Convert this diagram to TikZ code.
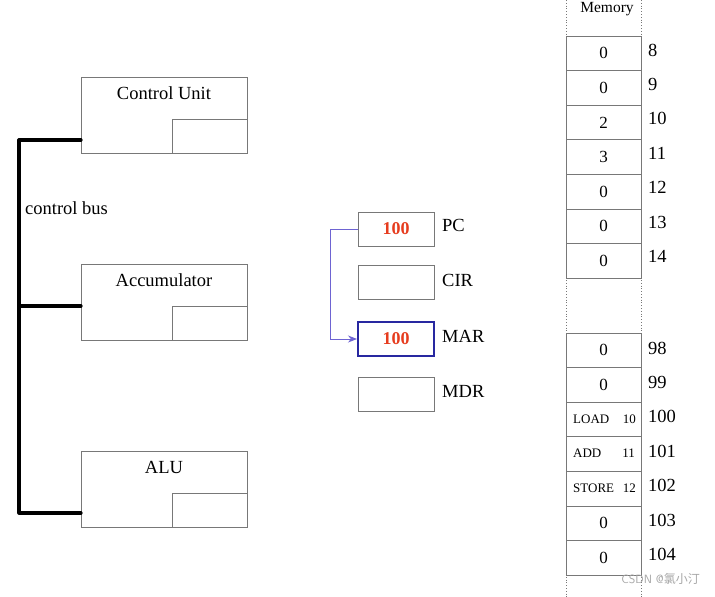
\documentclass[tikz,border=0pt]{standalone}
\usepackage{fontspec}
\setmainfont{Liberation Serif}
\newfontfamily\cjk{Noto Sans CJK SC}
\usetikzlibrary{arrows.meta}
\definecolor{boxgray}{RGB}{120,120,120}
\definecolor{regblue}{RGB}{40,40,160}
\definecolor{arrblue}{RGB}{110,100,210}
\definecolor{valred}{RGB}{230,60,30}
\tikzset{
  unitbox/.style={draw=boxgray, line width=0.8pt, minimum width=166pt, minimum height=76pt, inner sep=0pt, outer sep=0pt},
  subbox/.style={draw=boxgray, line width=0.8pt, minimum width=75pt, minimum height=34pt, inner sep=0pt, outer sep=0pt},
  regbox/.style={draw=boxgray, line width=0.8pt, minimum width=76pt, minimum height=34pt, inner sep=0pt, outer sep=0pt, font=\fontsize{18}{20}\selectfont\bfseries, text=valred},
  memcell/.style={draw=boxgray, line width=0.8pt, minimum width=75pt, minimum height=34.6pt, inner sep=0pt, outer sep=0pt, font=\fontsize{17}{19}\selectfont},
  bigtxt/.style={font=\fontsize{18.5}{20}\selectfont, inner sep=0pt},
  addr/.style={font=\fontsize{18.5}{20}\selectfont, anchor=west, inner sep=0pt},
  small/.style={font=\fontsize{13}{15}\selectfont, inner sep=0pt},
  bus/.style={line width=3.2pt, line cap=round, line join=round},
}
\begin{document}
\begin{tikzpicture}[x=1pt,y=-1pt]
\useasboundingbox (0,0) rectangle (715,597);
% units
\node[unitbox] (cu) at (164,115) {};
\node[subbox, anchor=south east] (cus) at (cu.south east) {};
\node[bigtxt] (cut) at (164,93) {Control Unit};
\node[unitbox] (acc) at (164,302) {};
\node[subbox, anchor=south east] (accs) at (acc.south east) {};
\node[bigtxt] (acct) at (164,280) {Accumulator};
\node[unitbox] (alu) at (164,489) {};
\node[subbox, anchor=south east] (alus) at (alu.south east) {};
\node[bigtxt] (alut) at (164,467) {ALU};
% bus
\coordinate (b1) at (19,140);
\coordinate (b2) at (19,306);
\coordinate (b3) at (19,513);
\draw[bus] (cu.west |- b1) -- (b1) -- (b3) -- (alu.west |- b3);
\draw[bus] (b2) -- (acc.west |- b2);
\node[bigtxt, anchor=west] (cbus) at (25,208) {control bus};
% registers
\node[regbox] (pc) at (396,229) {100};
\node[regbox] (cir) at (396,282) {};
\node[regbox, draw=regblue, line width=1.8pt] (mar) at (396,339) {100};
\node[regbox] (mdr) at (396,394) {};
\node[bigtxt, anchor=west] (pcl) at (442,225) {PC};
\node[bigtxt, anchor=west] (cirl) at (442,280) {CIR};
\node[bigtxt, anchor=west] (marl) at (442,336) {MAR};
\node[bigtxt, anchor=west] (mdrl) at (442,391) {MDR};
\coordinate (ax) at (330,0);
\coordinate (mi) at ([xshift=-1pt]mar.west);
\draw[arrblue, line width=0.9pt, -{Stealth[length=9pt,width=7pt]}] (pc.west) -- (pc.west -| ax) -- (mar.west -| ax) -- (mi);
% memory
\draw[boxgray, line width=0.8pt, dotted] (566,0) -- (566,597);
\draw[boxgray, line width=0.8pt, dotted] (641,0) -- (641,597);
\node[font=\fontsize{15.5}{17}\selectfont, inner sep=0pt] (memt) at (607,9) {Memory};
\foreach \v/\a [count=\i from 0] in {0/8,0/9,2/10,3/11,0/12,0/13,0/14}{
  \node[memcell] (m\i) at (603.5,53.3+34.6*\i) {\v};
  \node[addr] (ma\i) at (648,50+34.4*\i) {\a};
}
\foreach \v/\a [count=\i from 0] in {0/98,0/99,{}/100,{}/101,{}/102,0/103,0/104}{
  \node[memcell] (n\i) at (603.5,350.3+34.6*\i) {\v};
  \node[addr] (na\i) at (648,348+34.4*\i) {\a};
}
\node[small, anchor=west] (ld) at (573,419) {LOAD};
\node[small, anchor=east] (ldv) at (636,419) {10};
\node[small, anchor=west] (ad) at (573,453) {ADD};
\node[small, anchor=east] (adv) at (635,453) {11};
\node[small, anchor=west] (st) at (573,488) {STORE};
\node[small, anchor=east] (stv) at (636,488) {12};
\node[font=\fontsize{12}{14}\selectfont\sffamily, text=gray!70, anchor=east, inner sep=0pt] (wm) at (700,579) {CSDN @{\cjk 氯小汀}};
\end{tikzpicture}
\end{document}
